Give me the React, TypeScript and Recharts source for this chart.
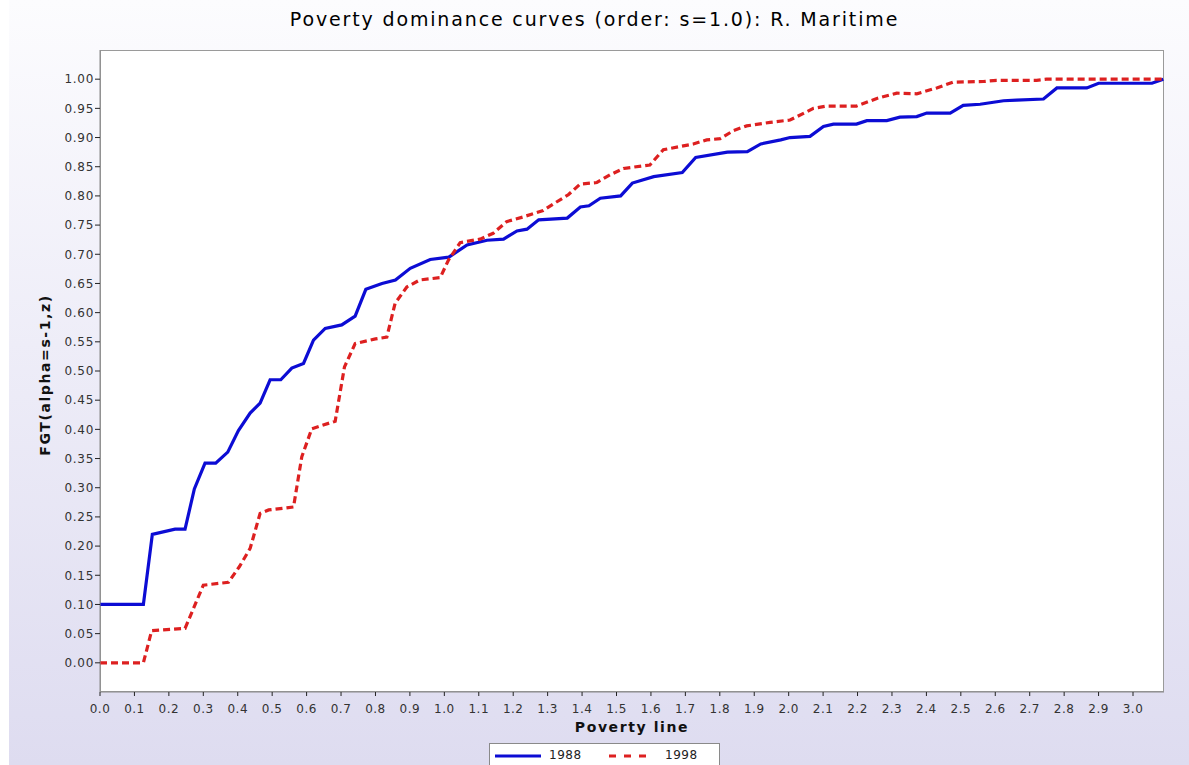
import React from "react";
import { LineChart, Line, XAxis, YAxis } from "recharts";

// ---- data ----
const povertyLine1988 = [0, 0.126, 0.152, 0.218, 0.247, 0.274, 0.305, 0.336, 0.371, 0.402, 0.436, 0.465, 0.494, 0.525, 0.557, 0.591, 0.62, 0.654, 0.702, 0.741, 0.772, 0.819, 0.858, 0.901, 0.959, 1.013, 1.066, 1.124, 1.172, 1.211, 1.24, 1.274, 1.357, 1.395, 1.42, 1.453, 1.512, 1.546, 1.608, 1.691, 1.73, 1.822, 1.88, 1.919, 1.977, 2.004, 2.062, 2.101, 2.13, 2.197, 2.227, 2.285, 2.323, 2.372, 2.401, 2.469, 2.507, 2.556, 2.624, 2.662, 2.74, 2.779, 2.866, 2.9, 3.055, 3.088];
const fgt1988 = [0.1, 0.1, 0.22, 0.229, 0.229, 0.298, 0.342, 0.342, 0.361, 0.398, 0.428, 0.445, 0.485, 0.485, 0.505, 0.513, 0.553, 0.573, 0.579, 0.594, 0.64, 0.65, 0.656, 0.676, 0.691, 0.695, 0.716, 0.724, 0.726, 0.74, 0.743, 0.759, 0.762, 0.781, 0.783, 0.796, 0.8, 0.822, 0.833, 0.84, 0.866, 0.875, 0.876, 0.889, 0.896, 0.9, 0.902, 0.919, 0.923, 0.923, 0.929, 0.929, 0.935, 0.936, 0.942, 0.942, 0.955, 0.957, 0.963, 0.964, 0.966, 0.985, 0.985, 0.993, 0.993, 1.0];

const povertyLine1998 = [0, 0.126, 0.15, 0.247, 0.3, 0.373, 0.405, 0.436, 0.465, 0.49, 0.562, 0.586, 0.615, 0.683, 0.71, 0.741, 0.8, 0.833, 0.857, 0.891, 0.929, 0.988, 1.012, 1.046, 1.104, 1.142, 1.181, 1.229, 1.287, 1.316, 1.36, 1.394, 1.443, 1.481, 1.52, 1.597, 1.636, 1.723, 1.762, 1.801, 1.84, 1.878, 1.946, 2.004, 2.072, 2.111, 2.197, 2.256, 2.314, 2.372, 2.43, 2.478, 2.565, 2.604, 2.72, 2.749, 3.088];
const fgt1998 = [0, 0, 0.055, 0.059, 0.133, 0.138, 0.165, 0.196, 0.256, 0.262, 0.267, 0.353, 0.401, 0.414, 0.507, 0.547, 0.555, 0.558, 0.616, 0.644, 0.656, 0.66, 0.69, 0.72, 0.726, 0.736, 0.756, 0.764, 0.775, 0.786, 0.802, 0.82, 0.823, 0.836, 0.847, 0.853, 0.879, 0.889, 0.896, 0.898, 0.912, 0.92, 0.926, 0.93, 0.95, 0.954, 0.954, 0.967, 0.976, 0.975, 0.985, 0.995, 0.996, 0.998, 0.998, 1.0, 1.0];

const xTicks = [0.0, 0.1, 0.2, 0.3, 0.4, 0.5, 0.6, 0.7, 0.8, 0.9, 1.0, 1.1, 1.2, 1.3, 1.4, 1.5, 1.6, 1.7, 1.8, 1.9, 2.0, 2.1, 2.2, 2.3, 2.4, 2.5, 2.6, 2.7, 2.8, 2.9, 3.0];
const yTicks = [0.0, 0.05, 0.1, 0.15, 0.2, 0.25, 0.3, 0.35, 0.4, 0.45, 0.5, 0.55, 0.6, 0.65, 0.7, 0.75, 0.8, 0.85, 0.9, 0.95, 1.0];

const seriesNames = ["1988", "1998"];
const titleText = "Poverty dominance curves (order: s=1.0): R. Maritime";
const xLabel = "Poverty line";
const yLabel = "FGT(alpha=s-1,z)";

const data1988 = povertyLine1988.map((x, i) => ({ x, y: fgt1988[i] }));
const data1998 = povertyLine1998.map((x, i) => ({ x, y: fgt1998[i] }));

const BLUE = "#0c0cd4";
const RED = "#dd2020";
const FONT = "'DejaVu Sans', Verdana, sans-serif";

export default function App() {
  return (
    <div
      style={{
        position: "absolute",
        left: 0,
        top: 0,
        width: 1189,
        height: 765,
        background: "#ffffff",
        overflow: "hidden",
      }}
    >
      <div
        style={{
          position: "absolute",
          left: 9,
          top: 0,
          width: 1180,
          height: 765,
          background: "linear-gradient(to bottom, #fcfcfe 0%, #eeedf8 45%, #dedcf0 100%)",
        }}
      />
      <div
        style={{
          position: "absolute",
          left: 0,
          top: 8,
          width: 1189,
          textAlign: "center",
          fontFamily: FONT,
          fontSize: 19,
          letterSpacing: 1.85,
          color: "#000",
          whiteSpace: "nowrap",
        }}
      >
        {titleText}
      </div>
      {/* plot background with border */}
      <div
        style={{
          position: "absolute",
          left: 100,
          top: 50,
          width: 1064,
          height: 642,
          background: "#ffffff",
          border: "1px solid #9a9a9a",
          boxSizing: "border-box",
        }}
      />
      <div style={{ position: "absolute", left: 0, top: 0 }}>
        <LineChart
          width={1189}
          height={765}
          margin={{ top: 50, right: 25, bottom: 43, left: 0 }}
        >
          <XAxis
            type="number"
            dataKey="x"
            domain={[0, 3.09]}
            ticks={xTicks}
            interval={0}
            allowDataOverflow
            tickFormatter={(v: number) => v.toFixed(1)}
            height={30}
            tickSize={4}
            tickMargin={8}
            axisLine={{ stroke: "#8a8a8a" }}
            tickLine={{ stroke: "#222" }}
            tick={{ fill: "#333", fontSize: 12, fontFamily: FONT, letterSpacing: 0.5 }}
          />
          <YAxis
            type="number"
            dataKey="y"
            domain={[-0.05, 1.05]}
            ticks={yTicks}
            interval={0}
            allowDataOverflow
            tickFormatter={(v: number) => v.toFixed(2)}
            width={100}
            tickSize={5}
            tickMargin={1}
            axisLine={{ stroke: "#8a8a8a" }}
            tickLine={{ stroke: "#222" }}
            tick={{ fill: "#333", fontSize: 12, fontFamily: FONT, letterSpacing: 0.7 }}
          />
          <Line
            data={data1988}
            dataKey="y"
            name={seriesNames[0]}
            type="linear"
            stroke={BLUE}
            strokeWidth={3.2}
            dot={false}
            activeDot={false}
            isAnimationActive={false}
          />
          <Line
            data={data1998}
            dataKey="y"
            name={seriesNames[1]}
            type="linear"
            stroke={RED}
            strokeWidth={3.2}
            strokeDasharray="7 4"
            dot={false}
            activeDot={false}
            isAnimationActive={false}
          />
        </LineChart>
      </div>
      {/* axis titles */}
      <div
        style={{
          position: "absolute",
          left: 100,
          width: 1064,
          top: 719,
          textAlign: "center",
          fontFamily: FONT,
          fontWeight: "bold",
          fontSize: 14,
          letterSpacing: 1.6,
          color: "#111",
          whiteSpace: "nowrap",
        }}
      >
        {xLabel}
      </div>
      <div
        style={{
          position: "absolute",
          left: 45,
          top: 377,
          width: 0,
          height: 0,
        }}
      >
        <div
          style={{
            position: "absolute",
            left: -120,
            top: -10,
            width: 240,
            textAlign: "center",
            transform: "rotate(-90deg)",
            fontFamily: FONT,
            fontWeight: "bold",
            fontSize: 14,
            letterSpacing: 1.6,
            color: "#111",
            whiteSpace: "nowrap",
          }}
        >
          {yLabel}
        </div>
      </div>
      {/* legend */}
      <div
        style={{
          position: "absolute",
          left: 489,
          top: 743,
          width: 231,
          height: 30,
          background: "#fff",
          border: "1px solid #8a8a8a",
          boxSizing: "border-box",
          fontFamily: FONT,
          fontSize: 12,
          letterSpacing: 0.5,
          color: "#222",
        }}
      >
        <svg width={229} height={28} style={{ position: "absolute", left: 0, top: 0 }}>
          <line x1={5} y1={12} x2={51} y2={12} stroke={BLUE} strokeWidth={3} />
          <line x1={119} y1={12} x2={158} y2={12} stroke={RED} strokeWidth={3} strokeDasharray="7 8" />
        </svg>
        <span style={{ position: "absolute", left: 59, top: 4 }}>{seriesNames[0]}</span>
        <span style={{ position: "absolute", left: 175, top: 4 }}>{seriesNames[1]}</span>
      </div>
    </div>
  );
}
